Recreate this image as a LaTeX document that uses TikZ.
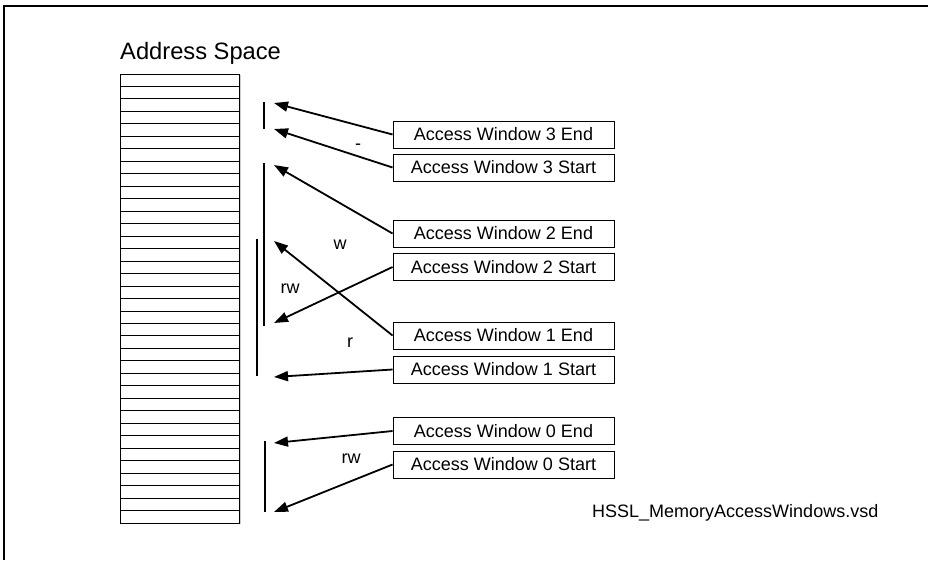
\documentclass[tikz,border=0pt]{standalone}
\usepackage{fontspec}
\setmainfont{Liberation Sans}
\usetikzlibrary{arrows.meta}

\begin{document}
\begin{tikzpicture}[
    x=1pt, y=-1pt,
    >={Triangle[length=14pt,width=10pt]},
    every node/.style={font=\fontsize{18}{21}\selectfont},
    window/.style={
        rectangle,
        draw=black,
        line width=0.9pt,
        minimum width=221pt,
        minimum height=27pt,
        inner sep=0pt
    },
    pointer/.style={->, line width=1.8pt},
    winbar/.style={line width=2.8pt},
    rights/.style={inner sep=0pt}
]
\useasboundingbox (0,0) rectangle (928,560);

% sheet frame
\draw[line width=1.3pt] (4,560) -- (4,6) -- (928,6);

% address space
\node[anchor=west, inner sep=0pt, font=\fontsize{23.7}{28}\selectfont] (title) at (120,53) {Address Space};
\draw[gray!40, line width=1pt] (240.5,75) -- (240.5,524);
\draw[line width=0.9pt] (120,74) rectangle (239,523);
\foreach \i in {1,...,35}
    \draw[line width=0.9pt] (120,{74+\i*12.472}) -- (239,{74+\i*12.472});

% access windows
\node[window] (w3end) at (503.5,134.5) {Access Window 3 End};
\node[window] (w3start) at (503.5,167.5) {Access Window 3 Start};
\node[window] (w2end) at (503.5,233.5) {Access Window 2 End};
\node[window] (w2start) at (503.5,267) {Access Window 2 Start};
\node[window] (w1end) at (503.5,335.5) {Access Window 1 End};
\node[window] (w1start) at (503.5,369.5) {Access Window 1 Start};
\node[window] (w0end) at (503.5,431) {Access Window 0 End};
\node[window] (w0start) at (503.5,464.5) {Access Window 0 Start};

% window ranges
\coordinate (r3top) at (264,102);
\coordinate (r3bot) at (264,129);
\coordinate (r2top) at (264,163);
\coordinate (r2bot) at (264,326);
\coordinate (r1top) at (257,239);
\coordinate (r1bot) at (257,376);
\coordinate (r0top) at (265,441);
\coordinate (r0bot) at (265,512);
\draw[winbar] (r3top) -- (r3bot);
\draw[winbar] (r2top) -- (r2bot);
\draw[winbar] (r1top) -- (r1bot);
\draw[winbar] (r0top) -- (r0bot);

% pointer tips
\coordinate (p3end) at (274,103);
\coordinate (p3start) at (274,129);
\coordinate (p2end) at (274,165);
\coordinate (p1end) at (274,241);
\coordinate (p2start) at (274,323);
\coordinate (p1start) at (274,377);
\coordinate (p0end) at (274,443);
\coordinate (p0start) at (274,512);

\draw[pointer] (w3end.west) -- (p3end);
\draw[pointer] (w3start.west) -- (p3start);
\draw[pointer] (w2end.west) -- (p2end);
\draw[pointer] (w2start.west) -- (p2start);
\draw[pointer] (w1end.west) -- (p1end);
\draw[pointer] (w1start.west) -- (p1start);
\draw[pointer] (w0end.west) -- (p0end);
\draw[pointer] (w0start.west) -- (p0start);

% access rights
\node[rights] (a3) at (358,147) {-};
\node[rights] (a2) at (340,245) {w};
\node[rights] (a1rw) at (290,289) {rw};
\node[rights] (a1) at (350,343) {r};
\node[rights] (a0) at (351,459) {rw};

\node[anchor=west, inner sep=0pt] (file) at (592,513) {HSSL\_MemoryAccessWindows.vsd};

\end{tikzpicture}
\end{document}
